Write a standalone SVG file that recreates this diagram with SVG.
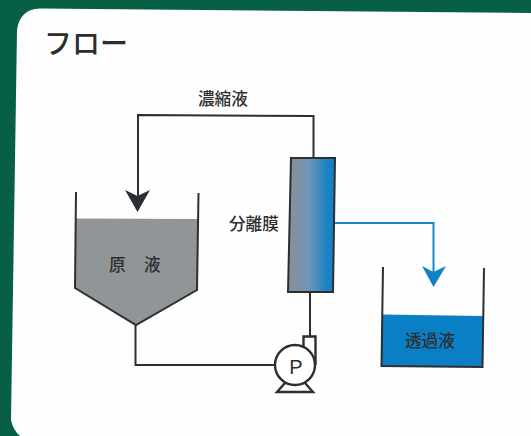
<svg xmlns="http://www.w3.org/2000/svg" width="531" height="436" viewBox="0 0 531 436">
<style>
.l{fill:none;stroke:#2e2e30;stroke-width:2}
.p{fill:none;stroke:#2e2e30;stroke-width:2.4}
.t{font-family:"Noto Sans CJK JP","Noto Sans",sans-serif;fill:#2d2d2f}
.s{font-size:16.6px;font-weight:500}
</style>
<defs>
<linearGradient id="g" gradientUnits="userSpaceOnUse" x1="289" y1="225" x2="335" y2="225">
<stop offset="0" stop-color="#8b8f98"/><stop offset="0.45" stop-color="#6f95b9"/><stop offset="0.8" stop-color="#1f84c4"/><stop offset="1" stop-color="#0b7ec3"/>
</linearGradient>
</defs>
<rect width="531" height="436" fill="#075f45"/>
<path d="M40 8.500L531 13V436H20Q13 430 11 420L17 30Q20 9 40 8.500Z" fill="#fefefe"/>
<text class="t" x="44" y="54" font-size="28" font-weight="500">フロー</text>
<g id="connectors">
<path class="l" d="M313.500 158V116L138 115V196"/>
<path class="l" d="M310 292V337"/>
<path class="l" d="M135.500 324V365H276"/>
<path fill="none" stroke="#1787c8" stroke-width="2" d="M334 223H433.500V272"/>
<path fill="#2b2f33" d="M125 190L137.500 196L150 190L137.500 212Z"/>
<path fill="#0f82c6" d="M422 266L433.500 272L446 266L433.500 287Z"/>
</g>
<g id="concentrate-label"><text class="t s" x="198" y="105">濃縮液</text></g>
<g id="membrane">
<path d="M291 158H335L333 292H288Z" fill="url(#g)" stroke="#2e2e30" stroke-width="2"/>
<text class="t s" x="229" y="230">分離膜</text>
</g>
<g id="feed-tank">
<path d="M76 218.500L198 219V290L136 325L75 288Z" fill="#909598"/>
<path class="l" d="M76 192L75 288L136 325L197 290L198.500 193"/>
<text class="t s" x="109" y="271">原</text>
<text class="t s" x="144" y="271">液</text>
</g>
<g id="permeate-tank">
<path d="M382 314.500L483 316V367L381 366Z" fill="#0a7fc6"/>
<path class="l" d="M383 267L381.500 366L482.500 367L484 268"/>
<text class="t s" x="405" y="347">透過液</text>
</g>
<g id="pump">
<path class="p" d="M303.500 346V336.500H315.500V365"/>
<circle cx="295" cy="365" r="20" fill="#fff" stroke="#2e2e30" stroke-width="2.400"/>
<path class="p" d="M285 383L277 392H313L305 383"/>
<text x="296" y="374" font-family="Liberation Sans,sans-serif" font-size="20" fill="#2e2e30" text-anchor="middle">P</text>
</g>
</svg>
